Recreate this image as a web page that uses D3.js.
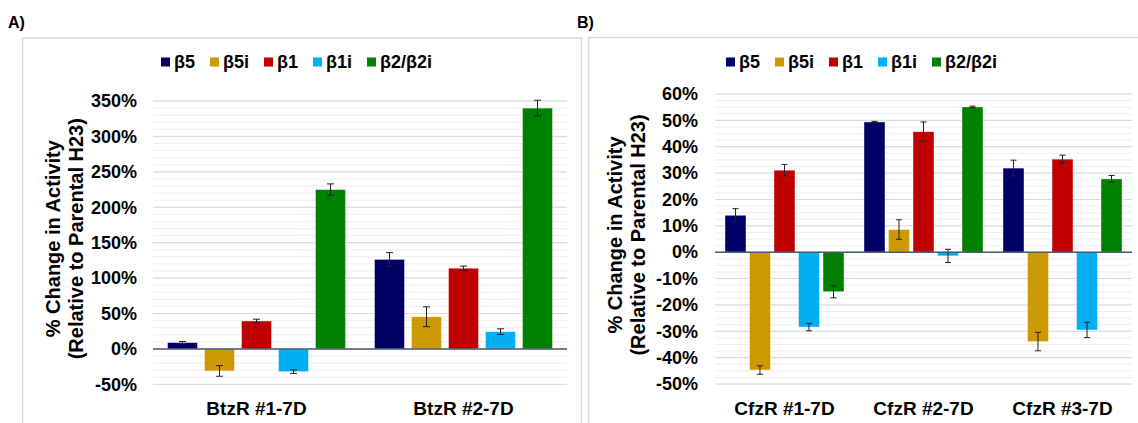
<!DOCTYPE html>
<html>
<head>
<meta charset="utf-8">
<script src="https://cdn.jsdelivr.net/npm/d3@7"></script>
<style>
  body { margin: 0; background: #fff; }
  text { font-family: "Liberation Sans", Arial, sans-serif; font-weight: bold; fill: #000; }
</style>
</head>
<body>
<div id="chart"></div>
<script>
// series shared by both panels
const seriesNames = ["β5", "β5i", "β1", "β1i", "β2/β2i"];
const seriesColors = ["#000066", "#cc9900", "#c00000", "#00b0f0", "#008000"];

// panel A - bortezomib resistant lines
const catsA = ["BtzR #1-7D", "BtzR #2-7D"];
const valuesA = [
  [9, -31, 39.5, -32, 225],
  [126.5, 45.5, 114, 24.5, 340]
];
const errorsA = [
  [1.5, 7.5, 2.5, 2.5, 8],
  [9.5, 14, 3, 4, 11]
];
const ticksA = [-50, 0, 50, 100, 150, 200, 250, 300, 350];

// panel B - carfilzomib resistant lines
const catsB = ["CfzR #1-7D", "CfzR #2-7D", "CfzR #3-7D"];
const valuesB = [
  [14, -44.7, 31.1, -28.4, -15],
  [49.4, 8.6, 45.7, -1.4, 55.1],
  [31.9, -33.9, 35.3, -29.5, 27.8]
];
const errorsB = [
  [2.5, 1.6, 2.2, 1.4, 2.3],
  [0.2, 3.7, 3.7, 2.5, 0.3],
  [3, 3.5, 1.5, 2.9, 1.3]
];
const ticksB = [-50, -40, -30, -20, -10, 0, 10, 20, 30, 40, 50, 60];

const W = 1138, H = 423;
const svg = d3.select("#chart").append("svg")
  .attr("width", W).attr("height", H);

// panel frames
svg.append("rect").attr("x", 22.5).attr("y", 38).attr("width", 559).attr("height", 420)
  .attr("fill", "none").attr("stroke", "#d9d9d9").attr("stroke-width", 1.5);
svg.append("rect").attr("x", 588.5).attr("y", 37.5).attr("width", 580).attr("height", 420)
  .attr("fill", "none").attr("stroke", "#d9d9d9").attr("stroke-width", 1.5);

svg.append("text").attr("x", 8).attr("y", 27.5).style("font-size", "16px").text("A)");
svg.append("text").attr("x", 577).attr("y", 28).style("font-size", "16px").text("B)");

function drawPanel(o) {
  const g = svg.append("g");
  const y = d3.scaleLinear().domain(o.domain).range(o.yRange);
  const x0 = d3.scaleBand().domain(o.cats).range(o.xRange);
  const x1 = d3.scaleBand().domain(seriesNames).range([0, x0.bandwidth()])
    .paddingInner(o.padIn).paddingOuter(o.padOut);

  // minor gridlines
  g.append("g").selectAll("line")
    .data(d3.range(o.domain[0], o.domain[1] + 0.001, o.minor))
    .join("line")
    .attr("x1", o.xRange[0]).attr("x2", o.xRange[1])
    .attr("y1", d => y(d)).attr("y2", d => y(d))
    .attr("stroke", "#eeeeee").attr("stroke-width", 1);
  // major gridlines
  g.append("g").selectAll("line")
    .data(o.ticks)
    .join("line")
    .attr("x1", o.xRange[0]).attr("x2", o.xRange[1])
    .attr("y1", d => y(d)).attr("y2", d => y(d))
    .attr("stroke", "#d9d9d9").attr("stroke-width", 1);

  // y tick labels
  const ax = g.append("g")
    .attr("transform", `translate(${o.xRange[0]},0)`)
    .call(d3.axisLeft(y).tickValues(o.ticks).tickSize(0).tickPadding(o.xRange[0] - o.tickX)
      .tickFormat(d => d + "%"));
  ax.select(".domain").remove();
  ax.selectAll("text")
    .style("font-family", "'Liberation Sans', Arial, sans-serif")
    .style("font-weight", "bold").style("font-size", "18px").attr("fill", "#000");

  // bars
  const groups = g.append("g").selectAll("g")
    .data(o.cats)
    .join("g")
    .attr("transform", d => `translate(${x0(d)},0)`);

  groups.each(function (cat, ci) {
    const rows = seriesNames.map((s, si) => ({ s, si, v: o.values[ci][si], e: o.errors[ci][si] }));
    const gg = d3.select(this);
    gg.selectAll("rect")
      .data(rows)
      .join("rect")
      .attr("x", d => x1(d.s))
      .attr("width", x1.bandwidth())
      .attr("y", d => Math.min(y(d.v), y(0)))
      .attr("height", d => Math.abs(y(d.v) - y(0)))
      .attr("fill", d => seriesColors[d.si])
      .attr("stroke", "#ffffff").attr("stroke-opacity", 0.6).attr("stroke-width", 0.7);

    const eb = gg.selectAll("g.err")
      .data(rows)
      .join("g").attr("class", "err");
    const cx = d => x1(d.s) + x1.bandwidth() / 2;
    eb.append("line")
      .attr("x1", cx).attr("x2", cx)
      .attr("y1", d => y(d.v - d.e)).attr("y2", d => y(d.v + d.e))
      .attr("stroke", "#222").attr("stroke-width", 1);
    [d => d.v - d.e, d => d.v + d.e].forEach(f => {
      eb.append("line")
        .attr("x1", d => cx(d) - o.cap).attr("x2", d => cx(d) + o.cap)
        .attr("y1", d => y(f(d))).attr("y2", d => y(f(d)))
        .attr("stroke", "#222").attr("stroke-width", 1);
    });
  });

  // zero axis
  g.append("line")
    .attr("x1", o.xRange[0]).attr("x2", o.xRange[1])
    .attr("y1", y(0)).attr("y2", y(0))
    .attr("stroke", "#4a5a70").attr("stroke-width", 1.5);

  // category labels
  g.append("g").selectAll("text")
    .data(o.cats)
    .join("text")
    .attr("x", d => x0(d) + x0.bandwidth() / 2)
    .attr("y", 415)
    .attr("text-anchor", "middle")
    .style("font-size", "19px")
    .text(d => d);

  // y axis title
  const midY = (o.yRange[0] + o.yRange[1]) / 2 - 4;
  [["% Change in Activity", o.titleX[0]], ["(Relative to Parental H23)", o.titleX[1]]].forEach(([t, tx]) => {
    g.append("text")
      .attr("transform", `translate(${tx},${midY}) rotate(-90)`)
      .attr("text-anchor", "middle")
      .attr("dy", "0.35em")
      .style("font-size", "20px")
      .text(t);
  });

  // legend
  const lg = g.append("g").attr("transform", `translate(${o.legendX},62)`);
  let lx = 0;
  seriesNames.forEach((s, i) => {
    lg.append("rect").attr("x", lx).attr("y", -4.5).attr("width", 9).attr("height", 9)
      .attr("fill", seriesColors[i]);
    const t = lg.append("text").attr("x", lx + 13).attr("dy", "0.36em")
      .style("font-size", "18px").text(s);
    lx += 13 + t.node().getComputedTextLength() + 15;
  });
}

drawPanel({
  cats: catsA, values: valuesA, errors: errorsA, ticks: ticksA,
  domain: [-50, 350], yRange: [384.4, 101], xRange: [153, 567],
  padIn: 0.189, padOut: 0.392, minor: 10, cap: 3.5,
  tickX: 137, titleX: [53, 76], legendX: 161
});

drawPanel({
  cats: catsB, values: valuesB, errors: errorsB, ticks: ticksB,
  domain: [-50, 60], yRange: [384, 94], xRange: [715, 1132],
  padIn: 0.143, padOut: 0.408, minor: 2.5, cap: 3,
  tickX: 698, titleX: [615, 638], legendX: 726
});
</script>
</body>
</html>
